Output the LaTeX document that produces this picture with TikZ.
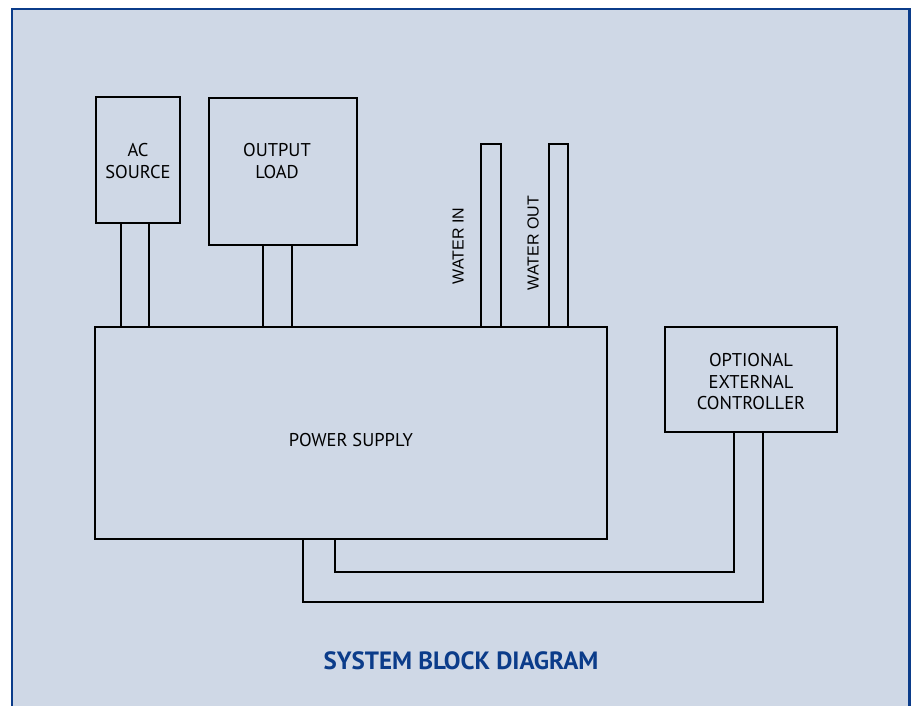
\documentclass[tikz,border=0pt]{standalone}
\usepackage{fontspec}
\setmainfont{PT Sans}
\newfontfamily\arialfont{Liberation Sans}
\definecolor{framefill}{HTML}{CFD8E6}
\definecolor{frameblue}{HTML}{0B3C8A}
\tikzset{
    unitbox/.style={draw, line width=2pt, inner sep=0pt},
    boxlabel/.style={align=center, font={\fontsize{18.5}{21.5}\selectfont}},
    pipelabel/.style={rotate=90, font={\arialfont\fontsize{16}{18}\selectfont}},
    cable/.style={line width=2pt},
}

\begin{document}
\begin{tikzpicture}[x=1pt, y=-1pt]
    \useasboundingbox (0,0) rectangle (911,706);
    \fill[white] (0,0) rectangle (911,706);
    \draw[line width=2.5pt, draw=frameblue, fill=framefill] (12,9) rectangle (909.5,730);

    \node[unitbox, minimum width=84pt, minimum height=126pt] (ac) at (138,160) {};
    \node[boxlabel] (actext) at (138,161) {AC\\SOURCE};
    \node[unitbox, minimum width=148pt, minimum height=147pt] (load) at (283,171.5) {};
    \node[boxlabel] (loadtext) at (277,161) {OUTPUT\\LOAD};
    \node[unitbox, minimum width=512pt, minimum height=212pt] (ps) at (351,433) {};
    \node[boxlabel] (pstext) at (351,440) {POWER SUPPLY};
    \node[unitbox, minimum width=172pt, minimum height=105pt] (ctrl) at (751,379.5) {};
    \node[boxlabel] (ctrltext) at (751,382) {OPTIONAL\\EXTERNAL\\CONTROLLER};

    % water pipes sit on top of the supply
    \node[unitbox, minimum width=20pt, minimum height=183pt] (win) at (491,235.5) {};
    \node[unitbox, minimum width=19pt, minimum height=183pt] (wout) at (558.5,235.5) {};
    \node[pipelabel] (wintext) at (458,246) {WATER IN};
    \node[pipelabel] (wouttext) at (533,243) {WATER OUT};

    % cables into the supply
    \draw[cable] ([xshift=-17pt]ac.south) -- ([xshift=-17pt]ac.south |- ps.north);
    \draw[cable] ([xshift=11pt]ac.south) -- ([xshift=11pt]ac.south |- ps.north);
    \draw[cable] ([xshift=-20pt]load.south) -- ([xshift=-20pt]load.south |- ps.north);
    \draw[cable] ([xshift=9pt]load.south) -- ([xshift=9pt]load.south |- ps.north);

    % control cable
    \coordinate (innerbend) at (734,572);
    \coordinate (outerbend) at (763,602);
    \draw[cable] ([xshift=-16pt]ps.south) |- (innerbend) -- ([xshift=-17pt]ctrl.south);
    \draw[cable] ([xshift=-48pt]ps.south) |- (outerbend) -- ([xshift=12pt]ctrl.south);

    \node[text=frameblue, font={\bfseries\fontsize{25}{28}\selectfont}] (title) at (461,660.5) {SYSTEM BLOCK DIAGRAM};
\end{tikzpicture}
\end{document}
